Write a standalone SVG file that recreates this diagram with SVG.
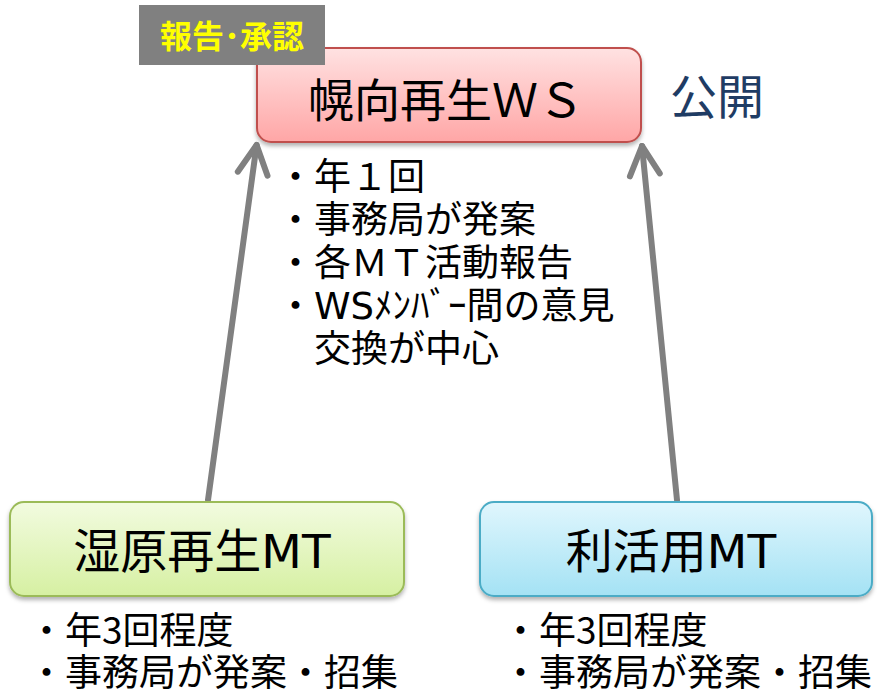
<svg xmlns="http://www.w3.org/2000/svg" width="877" height="694" viewBox="0 0 877 694">
<style>
  .jp { font-family: "Noto Sans CJK JP", "Noto Sans", sans-serif; }
  .lat { font-family: "DejaVu Sans", "Noto Sans CJK JP", sans-serif; }
  .title { font-size: 46px; fill: #000; }
  .sub { font-size: 47px; fill: #000; }
  .bul { font-size: 37px; fill: #000; }
  .conn { stroke: #808080; stroke-width: 6; fill: none; stroke-linecap: round; }
</style>
<defs>
  <linearGradient id="gRed" x1="0" y1="0" x2="0" y2="1">
    <stop offset="0" stop-color="#ffe2e2"/>
    <stop offset="1" stop-color="#ffa6a6"/>
  </linearGradient>
  <linearGradient id="gGreen" x1="0" y1="0" x2="0" y2="1">
    <stop offset="0" stop-color="#f2fbe0"/>
    <stop offset="1" stop-color="#d6f0a2"/>
  </linearGradient>
  <linearGradient id="gBlue" x1="0" y1="0" x2="0" y2="1">
    <stop offset="0" stop-color="#e0f6fd"/>
    <stop offset="1" stop-color="#a4e2f4"/>
  </linearGradient>
  <filter id="shadow" x="-10%" y="-10%" width="120%" height="130%">
    <feDropShadow dx="0" dy="3" stdDeviation="2" flood-color="#000" flood-opacity="0.3"/>
  </filter>
  <marker id="arrowV" markerUnits="userSpaceOnUse" viewBox="-40 -24 50 48" markerWidth="50" markerHeight="48" refX="0" refY="0" orient="auto" overflow="visible">
    <path d="M-29,-15 L0,0 L-29,15" fill="none" stroke="#808080" stroke-width="6" stroke-linecap="round" stroke-linejoin="round"/>
  </marker>
</defs>

<g id="connectors">
  <line class="conn" x1="208" y1="500" x2="256.6" y2="145" marker-end="url(#arrowV)"/>
  <line class="conn" x1="677" y1="500" x2="642" y2="146" marker-end="url(#arrowV)"/>
</g>

<g id="node-ws">
  <rect x="257" y="48" width="384" height="94" rx="14" ry="14" fill="url(#gRed)" stroke="#c0504d" stroke-width="2" filter="url(#shadow)"/>
  <text class="jp title" x="446" y="117" text-anchor="middle">幌向再生ＷＳ</text>
</g>

<g id="label-report">
  <rect x="139" y="5" width="186" height="60" fill="#808080"/>
  <text class="jp" x="232" y="48" text-anchor="middle" font-size="32" font-weight="bold" fill="#ffff00">報告･承認</text>
</g>

<g id="label-public">
  <text class="jp" x="670" y="114" font-size="47" fill="#1f3c64">公開</text>
</g>

<g id="ws-notes">
  <text class="jp bul">
    <tspan x="277" y="190">・年１回</tspan>
    <tspan x="277" y="233">・事務局が発案</tspan>
    <tspan x="277" y="276">・各ＭＴ活動報告</tspan>
    <tspan x="277" y="319">・<tspan class="lat">WS</tspan>ﾒﾝﾊﾞｰ間の意見</tspan>
    <tspan x="314" y="362">交換が中心</tspan>
  </text>
</g>

<g id="node-wetland">
  <rect x="10" y="502" width="394" height="94" rx="14" ry="14" fill="url(#gGreen)" stroke="#9bbb59" stroke-width="2" filter="url(#shadow)"/>
  <text class="jp sub" x="202" y="568" text-anchor="middle">湿原再生<tspan class="lat">MT</tspan></text>
</g>

<g id="node-utilize">
  <rect x="480" y="502" width="392" height="94" rx="14" ry="14" fill="url(#gBlue)" stroke="#4bacc6" stroke-width="2" filter="url(#shadow)"/>
  <text class="jp sub" x="671" y="568" text-anchor="middle">利活用<tspan class="lat">MT</tspan></text>
</g>

<g id="wetland-notes">
  <text class="jp bul">
    <tspan x="28" y="644">・年3回程度</tspan>
    <tspan x="28" y="686">・事務局が発案・招集</tspan>
  </text>
</g>

<g id="utilize-notes">
  <text class="jp bul">
    <tspan x="502" y="644">・年3回程度</tspan>
    <tspan x="502" y="686">・事務局が発案・招集</tspan>
  </text>
</g>
</svg>
